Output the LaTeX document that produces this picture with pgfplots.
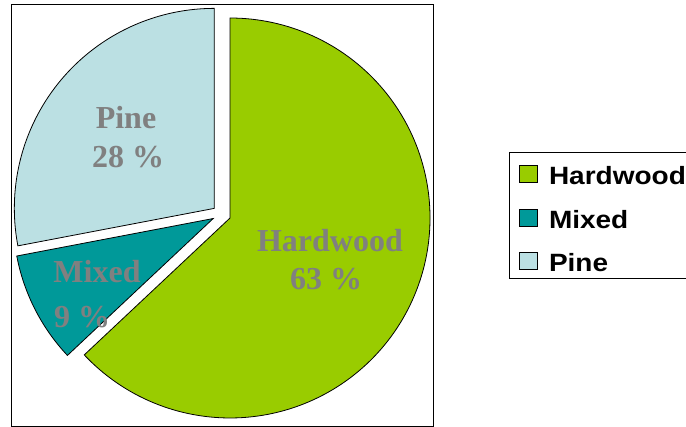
\documentclass[border=0pt]{standalone}
\usepackage{graphicx}
\usepackage{fontspec}
\setmainfont{Liberation Serif}
\newfontfamily\legfont{Liberation Sans}
\usepackage{pgfplots}
\pgfplotsset{compat=1.18}
\usepackage{pgfplotstable}
\definecolor{hard}{HTML}{99CC00}
\definecolor{mixed}{HTML}{009999}
\definecolor{pine}{HTML}{BBE0E3}
\definecolor{lab}{HTML}{808080}

\pgfplotstableread{
name value
Hardwood 63
Mixed 9
Pine 28
}\piedata

\def\cx{221.5}
\def\cy{214.3}
\def\ex{9.3}
\def\R{200}

\newcommand\slice[3]{% colour, start angle, end angle
  \pgfmathsetmacro\mid{(#2+#3)/2}%
  \pgfmathsetmacro\sx{\cx+\ex*cos(\mid)}%
  \pgfmathsetmacro\sy{\cy-\ex*sin(\mid)}%
  \edef\doslice{\noexpand\addplot[fill=#1, draw=black, line width=0.8pt, domain=#3:#2, samples=150, variable=\noexpand\t]
    ({\sx+\R*cos(t)},{\sy-\R*sin(t)}) -- (axis cs:\sx,\sy) -- cycle;}%
  \doslice
}

\begin{document}
\pgfplotstablegetelem{0}{value}\of\piedata\edef\vH{\pgfplotsretval}%
\pgfplotstablegetelem{1}{value}\of\piedata\edef\vM{\pgfplotsretval}%
\pgfplotstablegetelem{2}{value}\of\piedata\edef\vP{\pgfplotsretval}%
\pgfmathsetmacro\total{\vH+\vM+\vP}%
\pgfmathsetmacro\aA{90}%
\pgfmathsetmacro\aB{\aA-360*(\vH/\total)}%
\pgfmathsetmacro\aC{\aB-360*(\vM/\total)}%
\pgfmathsetmacro\aD{\aC-360*(\vP/\total)}%
\begin{tikzpicture}
\useasboundingbox (0,0) rectangle (686pt,427pt);
\begin{axis}[
  width=686pt, height=427pt, scale only axis,
  xmin=0, xmax=686, ymin=0, ymax=427, y dir=reverse,
  axis line style={draw=none}, xtick=\empty, ytick=\empty,
  clip=false,
  legend cell align=left,
  legend style={at={(axis cs:509,152)}, anchor=north west, draw=black, line width=0.8pt,
    fill=white, inner xsep=10pt, inner ysep=0pt,
    font=\legfont\bfseries\fontsize{25}{30}\selectfont,
    row sep=4.5pt,
    nodes={inner sep=0pt, text height=32.3pt, text depth=6.7pt},
    /tikz/every odd column/.append style={column sep=11pt}},
  legend image code/.code={\draw[#1,draw=black,line width=0.6pt] (0pt,-10.5pt) rectangle (18pt,6.5pt);},
]
\draw[line width=0.8pt] (axis cs:11,4) rectangle (axis cs:433,426);
\slice{hard}{\aA}{\aB}
\addlegendentry{\scalebox{1.12}[1]{Hardwood}}
\slice{mixed}{\aB}{\aC}
\addlegendentry{\scalebox{1.12}[1]{Mixed}}
\slice{pine}{\aC}{\aD}
\addlegendentry{\scalebox{1.12}[1]{Pine}}

\node[anchor=base, text=lab, font=\bfseries\fontsize{32}{38}\selectfont] at (axis cs:330,252) {Hardwood};
\node[anchor=base, text=lab, font=\bfseries\fontsize{32}{38}\selectfont] at (axis cs:326,290) {63 \%};
\node[anchor=base, text=lab, font=\bfseries\fontsize{32}{38}\selectfont] at (axis cs:126,129) {Pine};
\node[anchor=base, text=lab, font=\bfseries\fontsize{32}{38}\selectfont] at (axis cs:128,168) {28 \%};
\node[anchor=base, text=lab, font=\bfseries\fontsize{32}{38}\selectfont] at (axis cs:97,283) {Mixed};
\node[anchor=base, text=lab, font=\bfseries\fontsize{32}{38}\selectfont] at (axis cs:82,328) {9 \%};
\end{axis}
\end{tikzpicture}
\end{document}
